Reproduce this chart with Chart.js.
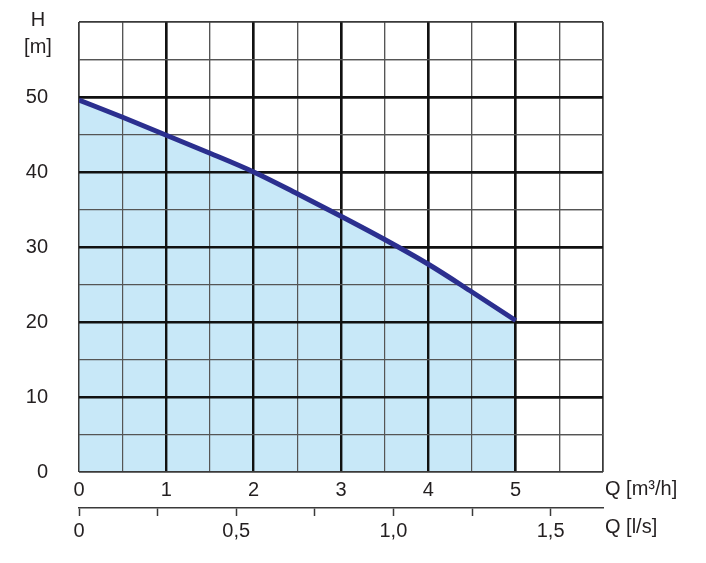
<!DOCTYPE html>
<html>
<head>
<meta charset="utf-8">
<script src="https://cdn.jsdelivr.net/npm/chart.js@4.4.0/dist/chart.umd.min.js"></script>
<style>
    html, body { margin: 0; padding: 0; background: #fff; }
    #wrap { width: 706px; height: 563px; }
</style>
</head>
<body>
<div id="wrap"><canvas id="pumpChart" width="706" height="563"></canvas></div>
<script>
// Pump curve: flow Q [m3/h] against head H [m]
const flowM3h = [0, 0.5, 1, 1.5, 2, 2.5, 3, 3.5, 4, 4.5, 5];
const headM = [49.6, 47.3, 44.9, 42.5, 40.0, 37.1, 34.1, 31.0, 27.7, 24.0, 20.2];

// Tick labels
const headTicks = [0, 10, 20, 30, 40, 50];
const flowTicks = [0, 1, 2, 3, 4, 5];
const flowLsTicks = [0, 0.5, 1.0, 1.5];

const textColor = '#231f20';
const labelFont = { family: '"Liberation Sans", Arial, sans-serif', size: 20 };

// Grid look: thin at the frame, heavy at whole units, light in between
function gridStyle(value, last, major) {
    if (value === 0 || value === last) return { color: '#3a3a3a', width: 1.5 };
    if (Math.abs(value / major - Math.round(value / major)) < 1e-6) return { color: '#111', width: 2.4 };
    return { color: '#555', width: 1.2 };
}

// Redraw the grid on top of the fill, just before the curve itself
const gridOverFill = {
    id: 'gridOverFill',
    beforeDatasetDraw(chart) {
        chart.scales.x.drawGrid(chart.chartArea);
        chart.scales.y.drawGrid(chart.chartArea);
    },
    afterDraw(chart) {
        const ctx = chart.ctx;
        ctx.save();
        ctx.fillStyle = textColor;
        ctx.font = '20px "Liberation Sans", Arial, sans-serif';
        ctx.textAlign = 'center';
        ctx.textBaseline = 'alphabetic';
        ctx.fillText('H', 38, 26);
        ctx.fillText('[m]', 38, 53);
        ctx.textAlign = 'left';
        ctx.fillText('Q [m³/h]', 605, 495);
        ctx.fillText('Q [l/s]', 605, 533);
        ctx.restore();
    }
};

new Chart(document.getElementById('pumpChart'), {
    type: 'line',
    data: {
        datasets: [{
            data: flowM3h.map((q, i) => ({ x: q, y: headM[i] })),
            borderColor: '#2b2f8f',
            borderWidth: 5,
            backgroundColor: '#c8e8f8',
            fill: 'origin',
            pointRadius: 0,
            cubicInterpolationMode: 'monotone'
        }]
    },
    options: {
        responsive: false,
        devicePixelRatio: 1,
        animation: false,
        layout: { padding: { left: 0, right: 103, top: 22, bottom: 0 } },
        plugins: {
            legend: { display: false },
            tooltip: { enabled: false }
        },
        scales: {
            x: {
                type: 'linear',
                position: 'bottom',
                min: 0,
                max: 6,
                afterFit: s => { s.height = 36; },
                border: { display: false },
                grid: {
                    drawTicks: false,
                    color: c => gridStyle(c.tick.value, 6, 1).color,
                    lineWidth: c => gridStyle(c.tick.value, 6, 1).width
                },
                ticks: {
                    stepSize: 0.5,
                    autoSkip: false,
                    maxRotation: 0,
                    padding: 6,
                    color: textColor,
                    font: labelFont,
                    callback: v => flowTicks.includes(v) ? String(v) : ''
                }
            },
            x2: {
                type: 'linear',
                position: 'bottom',
                min: 0,
                max: 6 / 3.6,
                afterFit: s => { s.height = 55; },
                border: { display: true, color: '#3a3a3a', width: 1.5 },
                grid: {
                    drawOnChartArea: false,
                    drawTicks: true,
                    tickLength: 8,
                    tickWidth: 1.5,
                    tickColor: '#3a3a3a'
                },
                ticks: {
                    stepSize: 0.25,
                    includeBounds: false,
                    autoSkip: false,
                    maxRotation: 0,
                    padding: 3,
                    color: textColor,
                    font: labelFont,
                    callback: v => flowLsTicks.includes(v) ? (v === 0 ? '0' : v.toFixed(1).replace('.', ',')) : ''
                }
            },
            y: {
                min: 0,
                max: 60,
                afterFit: s => { s.width = 79; s.paddingTop = 0; s.paddingBottom = 0; },
                border: { display: false },
                grid: {
                    drawTicks: false,
                    color: c => gridStyle(c.tick.value, 60, 10).color,
                    lineWidth: c => gridStyle(c.tick.value, 60, 10).width
                },
                ticks: {
                    stepSize: 5,
                    autoSkip: false,
                    padding: 31,
                    color: textColor,
                    font: labelFont,
                    callback: v => headTicks.includes(v) ? String(v) : ''
                }
            }
        }
    },
    plugins: [gridOverFill]
});
</script>
</body>
</html>
